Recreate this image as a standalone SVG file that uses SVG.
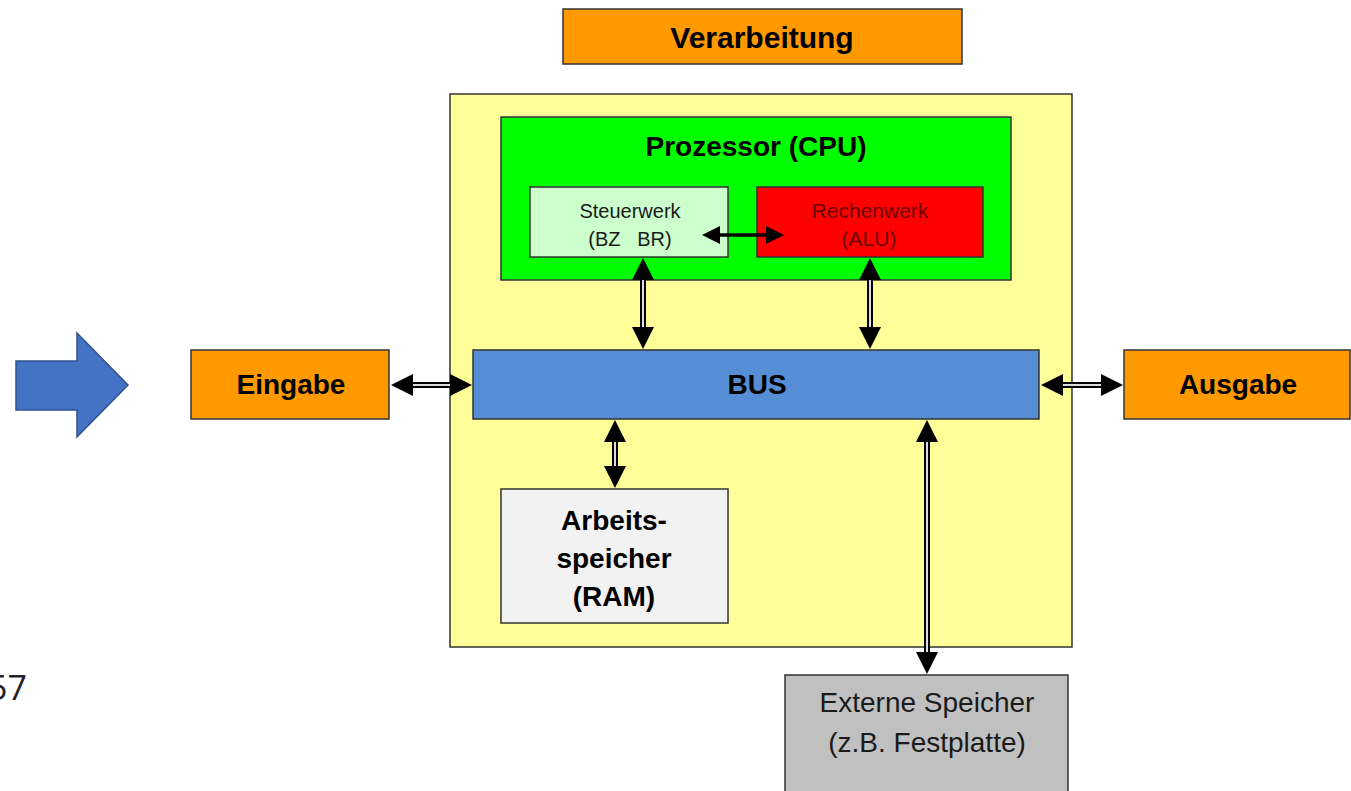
<svg xmlns="http://www.w3.org/2000/svg" width="1351" height="791" viewBox="0 0 1351 791">
<style>
.box{stroke:#333;stroke-width:1.5}
.b{font-family:"Liberation Sans",Arial,sans-serif;font-weight:bold;fill:#000;text-anchor:middle}
.r{font-family:"Liberation Sans",Arial,sans-serif;fill:#1a1a1a;text-anchor:middle}
.shaft{stroke:#000;stroke-width:6}
.inner{stroke:#ddd;stroke-width:2}
.head{fill:#000}
</style>
<rect width="1351" height="791" fill="#fff"/>
<g id="pfeil">
<polygon points="16,361 77,361 77,333 128,385 77,437 77,410 16,410" fill="#4472C4" stroke="#2F528F" stroke-width="1.5"/>
</g>
<text x="-12" y="700" font-family="'Open Sans',sans-serif" font-size="34" fill="#222">57</text>
<g id="verarbeitung">
<rect class="box" x="563" y="9" width="399" height="55" fill="#FF9900"/>
<text class="b" x="762" y="48" font-size="30">Verarbeitung</text>
</g>
<g id="system">
<rect class="box" x="450" y="94" width="622" height="553" fill="#FFFF99"/>
</g>
<g id="cpu">
<rect class="box" x="501" y="117" width="510" height="163" fill="#00FF00"/>
<text class="b" x="756" y="156" font-size="28">Prozessor (CPU)</text>
</g>
<g id="steuerwerk">
<rect class="box" x="530" y="187" width="198" height="70" fill="#CCFFCC"/>
<text class="r" x="630" y="218" font-size="20" fill="#333">Steuerwerk</text>
<text class="r" x="630" y="246" font-size="20" fill="#333" xml:space="preserve">(BZ   BR)</text>
</g>
<g id="rechenwerk">
<rect class="box" x="757" y="187" width="226" height="70" fill="#FF0000"/>
<text class="r" x="870" y="218" font-size="21" style="fill:#6b0000">Rechenwerk</text>
<text class="r" x="869" y="246" font-size="21" style="fill:#6b0000">(ALU)</text>
</g>
<g id="bus">
<rect class="box" x="473" y="350" width="566" height="69" fill="#558ED5"/>
<text class="b" x="757" y="394" font-size="28">BUS</text>
</g>
<g id="eingabe">
<rect class="box" x="191" y="350" width="198" height="69" fill="#FF9900"/>
<text class="b" x="291" y="394" font-size="28">Eingabe</text>
</g>
<g id="ausgabe">
<rect class="box" x="1124" y="350" width="226" height="69" fill="#FF9900"/>
<text class="b" x="1238" y="394" font-size="28">Ausgabe</text>
</g>
<g id="ram">
<rect class="box" x="501" y="489" width="227" height="134" fill="#F2F2F2"/>
<text class="b" x="614" y="530" font-size="28">Arbeits-</text>
<text class="b" x="614" y="568" font-size="28">speicher</text>
<text class="b" x="614" y="606" font-size="28">(RAM)</text>
</g>
<g id="extern">
<rect class="box" x="785" y="675" width="283" height="125" fill="#C0C0C0"/>
<text class="r" x="927" y="712" font-size="28">Externe Speicher</text>
<text class="r" x="927" y="752" font-size="28">(z.B. Festplatte)</text>
</g>
<g id="connectors">
<line x1="716" y1="235" x2="769" y2="235" stroke="#000" stroke-width="3.5"/>
<polygon class="head" points="702,235 720,226 720,244"/>
<polygon class="head" points="784,235 766,226 766,244"/>

<line class="shaft" x1="643" y1="278" x2="643" y2="329"/>
<line class="inner" x1="643" y1="278" x2="643" y2="329"/>
<polygon class="head" points="643,258 632,280 654,280"/>
<polygon class="head" points="643,349 632,327 654,327"/>

<line class="shaft" x1="870" y1="278" x2="870" y2="329"/>
<line class="inner" x1="870" y1="278" x2="870" y2="329"/>
<polygon class="head" points="870,258 859,280 881,280"/>
<polygon class="head" points="870,349 859,327 881,327"/>

<line class="shaft" x1="410" y1="385" x2="452" y2="385"/>
<line class="inner" x1="410" y1="385" x2="452" y2="385"/>
<polygon class="head" points="391,385 413,374 413,396"/>
<polygon class="head" points="472,385 450,374 450,396"/>

<line class="shaft" x1="1060" y1="385" x2="1103" y2="385"/>
<line class="inner" x1="1060" y1="385" x2="1103" y2="385"/>
<polygon class="head" points="1041,385 1063,374 1063,396"/>
<polygon class="head" points="1123,385 1101,374 1101,396"/>

<line class="shaft" x1="615" y1="440" x2="615" y2="468"/>
<line class="inner" x1="615" y1="440" x2="615" y2="468"/>
<polygon class="head" points="615,420 604,442 626,442"/>
<polygon class="head" points="615,488 604,466 626,466"/>

<line class="shaft" x1="927" y1="440" x2="927" y2="654"/>
<line class="inner" x1="927" y1="440" x2="927" y2="654"/>
<polygon class="head" points="927,420 916,442 938,442"/>
<polygon class="head" points="927,674 916,652 938,652"/>
</g>
</svg>
